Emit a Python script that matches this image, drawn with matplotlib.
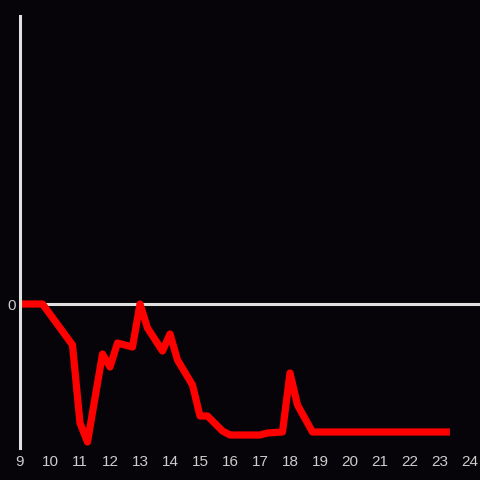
import matplotlib.pyplot as plt

# hours of the day and relative value
hours = [9.0, 9.75, 10.75, 11.0, 11.25, 11.75, 12.0, 12.25, 12.75, 13.0, 13.25,
         13.75, 14.0, 14.25, 14.75, 15.0, 15.25, 15.75, 16.0, 17.0, 17.25,
         17.75, 18.0, 18.25, 18.75, 23.33]
values = [0.0, 0.0, -4.1, -11.9, -13.8, -5.0, -6.3, -3.9, -4.3, 0.0, -2.4,
          -4.7, -3.0, -5.6, -8.1, -11.2, -11.2, -12.7, -13.1, -13.1, -12.9,
          -12.8, -6.9, -10.1, -12.8, -12.8]
xticks = list(range(9, 25))

bg = '#060408'
fg = '#e0e0e0'

plt.rcParams['font.family'] = ['Liberation Sans', 'DejaVu Sans']

fig = plt.figure(figsize=(4.8, 4.8), dpi=100, facecolor=bg)
ax = fig.add_axes([20 / 480, 32 / 480, 460 / 480, 432 / 480])
ax.set_facecolor(bg)

ax.axhline(0, color=fg, linewidth=2.2, zorder=1)
ax.plot(hours, values, color='#ff0000', linewidth=5.2, solid_joinstyle='round',
        solid_capstyle='butt', zorder=2)

ax.set_xlim(9, 9 + 460 / 30)
ax.set_ylim(-14.4, 28.8)

for s in ['top', 'right', 'bottom']:
    ax.spines[s].set_visible(False)
ax.spines['left'].set_color(fg)
ax.spines['left'].set_linewidth(2.2)

ax.set_xticks(xticks)
ax.set_xticklabels([str(t) for t in xticks])
ax.set_yticks([0])
ax.set_yticklabels(['0'])
ax.tick_params(axis='both', length=0, colors='#cccccc', labelsize=11)
ax.tick_params(axis='x', pad=5)
ax.tick_params(axis='y', pad=3)

fig.savefig('out.png', dpi=100, facecolor=bg)
